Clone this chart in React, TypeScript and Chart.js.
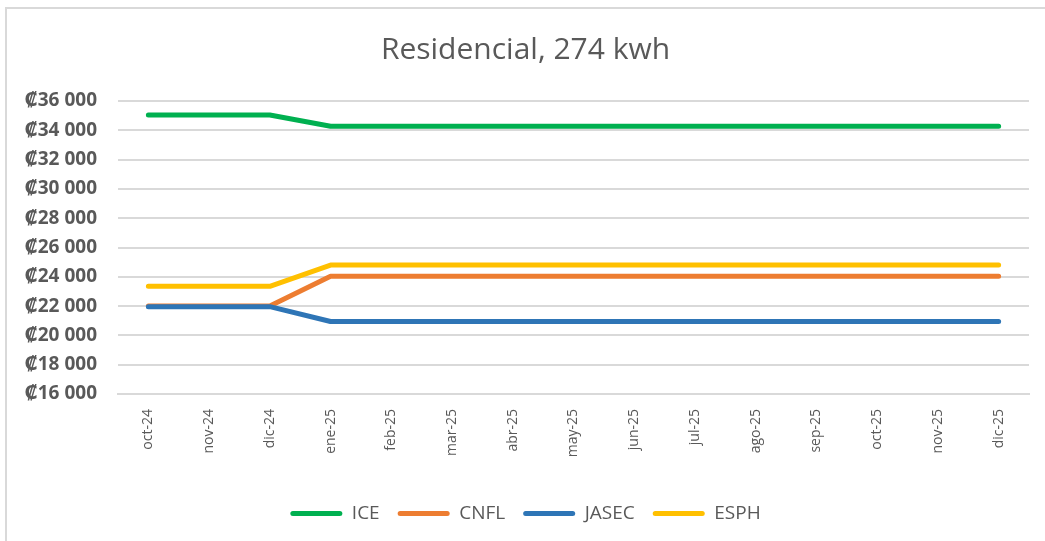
import React, { useEffect, useRef } from "react";
import { Chart, registerables } from "chart.js";

Chart.register(...registerables);

const categories = [
  "oct-24", "nov-24", "dic-24", "ene-25", "feb-25", "mar-25", "abr-25",
  "may-25", "jun-25", "jul-25", "ago-25", "sep-25", "oct-25", "nov-25", "dic-25",
];

const iceValues = [35040, 35040, 35040, 34280, 34280, 34280, 34280, 34280, 34280, 34280, 34280, 34280, 34280, 34280, 34280];
const cnflValues = [22010, 22010, 22010, 24040, 24040, 24040, 24040, 24040, 24040, 24040, 24040, 24040, 24040, 24040, 24040];
const jasecValues = [21960, 21960, 21960, 20950, 20950, 20950, 20950, 20950, 20950, 20950, 20950, 20950, 20950, 20950, 20950];
const esphValues = [23350, 23350, 23350, 24800, 24800, 24800, 24800, 24800, 24800, 24800, 24800, 24800, 24800, 24800, 24800];

const seriesNames = ["ICE", "CNFL", "JASEC", "ESPH"];
const seriesColors = ["#00B050", "#ED7D31", "#2E75B6", "#FFC000"];

const yMin = 16000;
const yMax = 36000;
const yStep = 2000;

const titleText = "Residencial, 274 kwh";
const FONT = "'Open Sans', 'DejaVu Sans', sans-serif";
const TEXT_COLOR = "#595959";
const GRID_COLOR = "#d9d9d9";

function formatColon(v: number): string {
  const thousands = Math.floor(v / 1000);
  const rest = Math.round(v % 1000);
  return "₡" + thousands + " " + String(rest).padStart(3, "0");
}

export default function App() {
  const canvasRef = useRef<HTMLCanvasElement | null>(null);

  useEffect(() => {
    if (!canvasRef.current) return;
    const values = [iceValues, cnflValues, jasecValues, esphValues];
    const chart = new Chart(canvasRef.current, {
      type: "line",
      data: {
        labels: categories,
        datasets: seriesNames.map((name, i) => ({
          label: name,
          data: values[i],
          borderColor: seriesColors[i],
          backgroundColor: seriesColors[i],
          borderWidth: 5,
          pointRadius: 0,
          pointHoverRadius: 0,
          tension: 0,
          borderCapStyle: "round" as const,
          borderJoinStyle: "round" as const,
          fill: false,
          order: seriesNames.length - i,
        })),
      },
      options: {
        responsive: false,
        animation: false,
        layout: { padding: { left: 22, right: 16, top: 0, bottom: 8 } },
        plugins: {
          tooltip: { enabled: false },
          title: {
            display: true,
            text: titleText,
            color: TEXT_COLOR,
            font: { family: FONT, size: 30, weight: "normal" },
            padding: { top: 32, bottom: 33 },
          },
          legend: {
            position: "bottom",
            labels: {
              color: TEXT_COLOR,
              font: { family: FONT, size: 19 },
              boxWidth: 52,
              boxHeight: 5,
              padding: 18,
              useBorderRadius: true,
              borderRadius: 2.5,
              sort: (a: any, b: any) => a.datasetIndex - b.datasetIndex,
              generateLabels: (c: any) =>
                c.data.datasets.map((ds: any, i: number) => ({
                  text: ds.label,
                  fillStyle: ds.borderColor,
                  strokeStyle: ds.borderColor,
                  lineWidth: 0,
                  fontColor: TEXT_COLOR,
                  datasetIndex: i,
                  hidden: false,
                  borderRadius: 2.5,
                })),
            },
          },
        },
        scales: {
          x: {
            offset: true,
            grid: { display: false, drawTicks: false },
            border: { display: true, color: GRID_COLOR, width: 2 },
            ticks: {
              color: TEXT_COLOR,
              font: { family: FONT, size: 14 },
              minRotation: 90,
              maxRotation: 90,
              padding: 15,
              autoSkip: false,
            },
            afterFit: (s: any) => {
              s.height = 92;
            },
          },
          y: {
            min: yMin,
            max: yMax,
            grid: { color: GRID_COLOR, lineWidth: 2, drawTicks: false },
            border: { display: false },
            ticks: {
              stepSize: yStep,
              color: TEXT_COLOR,
              font: { family: FONT, size: 19, weight: "bold" },
              padding: 21,
              callback: (v: any) => formatColon(Number(v)),
            },
            afterFit: (s: any) => {
              s.width = 96;
            },
          },
        },
      },
    });
    return () => chart.destroy();
  }, []);

  return (
    <div style={{ position: "fixed", left: 0, top: 0, width: 1045, height: 541, background: "#fff" }}>
      <canvas ref={canvasRef} width={1045} height={541} style={{ position: "absolute", left: 0, top: 0 }} />
      <div
        style={{
          position: "absolute",
          left: 5,
          top: 7,
          width: 1100,
          height: 600,
          borderLeft: "2px solid " + GRID_COLOR,
          borderTop: "2px solid " + GRID_COLOR,
          pointerEvents: "none",
        }}
      />
    </div>
  );
}
